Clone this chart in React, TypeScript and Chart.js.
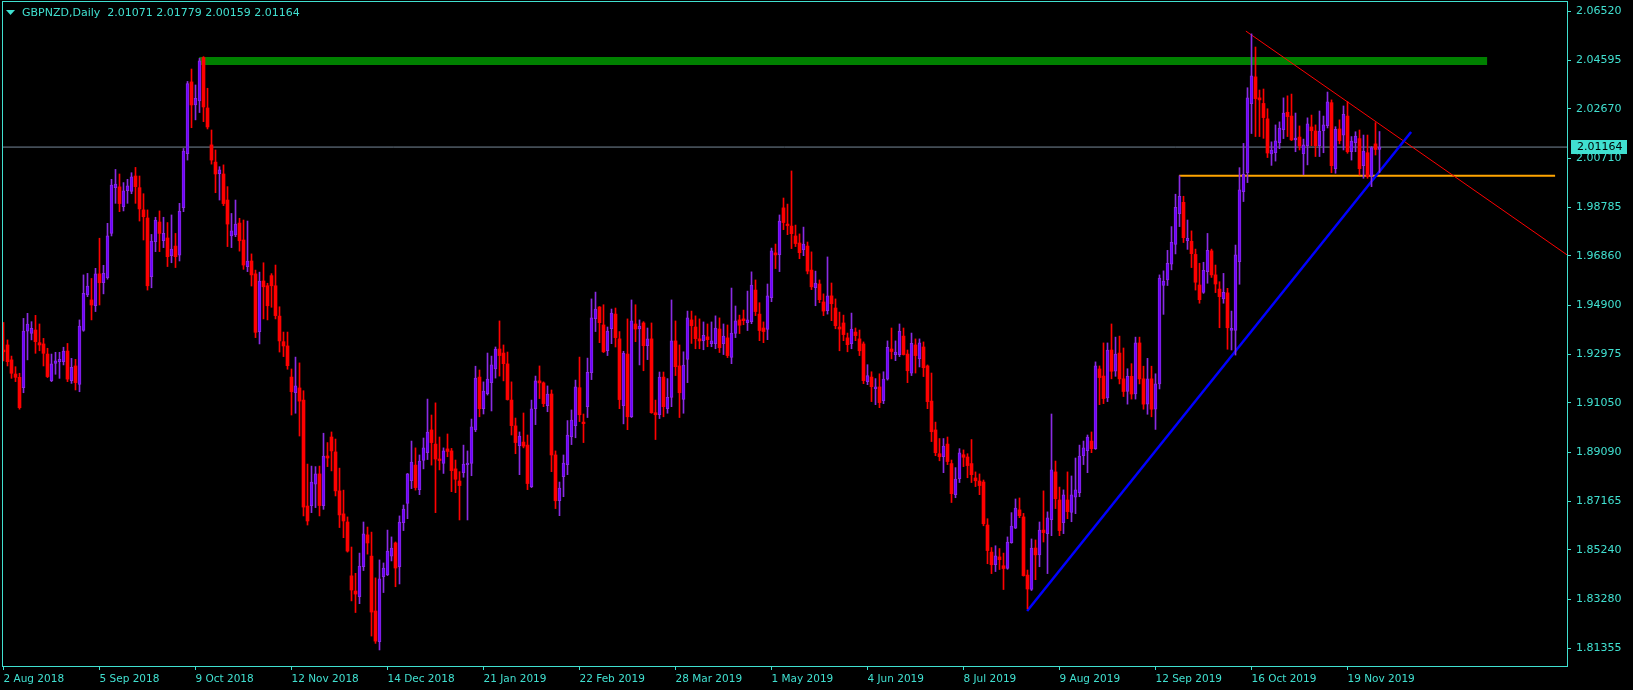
import React, { useEffect, useRef } from 'react';
import { Chart, registerables } from 'chart.js';

Chart.register(...registerables);

// ---- header ----
const symbolTitle = 'GBPNZD,Daily';
const lastQuote = ['2.01071', '2.01779', '2.00159', '2.01164'];
const currentPrice = 2.01164;

// ---- daily candles (bar index 0 = 2 Aug 2018) ----
const opens = [
  1.9314,1.9334,1.9275,1.9219,1.9206,1.9165,1.9389,1.9380,1.9393,1.9343,
  1.9338,1.9298,1.9193,1.9261,1.9268,1.9268,1.9310,1.9193,1.9251,1.9178,
  1.9391,1.9532,1.9512,1.9489,1.9615,1.9580,1.9600,1.9775,1.9956,1.9959,
  1.9881,1.9944,1.9941,2.0002,1.9956,1.9868,1.9836,1.9604,1.9742,1.9820,
  1.9746,1.9757,1.9687,1.9725,1.9689,1.9877,2.0090,2.0374,2.0283,2.0299,
  2.0470,2.0271,2.0125,2.0057,2.0011,2.0010,1.9907,1.9765,1.9769,1.9816,
  1.9749,1.9644,1.9666,1.9615,1.9387,1.9587,1.9568,1.9608,1.9568,1.9448,
  1.9347,1.9330,1.9207,1.9145,1.9164,1.9116,1.8697,1.8699,1.8784,1.8824,
  1.8699,1.8895,1.8970,1.8911,1.8757,1.8666,1.8634,1.8421,1.8361,1.8339,
  1.8457,1.8583,1.8499,1.8282,1.8161,1.8418,1.8426,1.8499,1.8551,1.8457,
  1.8631,1.8707,1.8797,1.8859,1.8762,1.8877,1.8908,1.8998,1.8942,1.8883,
  1.8866,1.8923,1.8915,1.8844,1.8796,1.8829,1.8861,1.8866,1.8998,1.9207,
  1.9082,1.9141,1.9185,1.9239,1.9318,1.9302,1.9259,1.9116,1.9014,1.8936,
  1.8950,1.8938,1.8774,1.9082,1.9192,1.9184,1.9094,1.9140,1.8899,1.8718,
  1.8813,1.8861,1.8971,1.9015,1.9165,1.9029,1.9090,1.9224,1.9438,1.9484,
  1.9413,1.9311,1.9398,1.9456,1.9358,1.9094,1.9298,1.9050,1.9417,1.9397,
  1.9421,1.9331,1.9358,1.9066,1.9058,1.9207,1.9082,1.9127,1.9350,1.9251,
  1.9119,1.9277,1.9433,1.9405,1.9358,1.9351,1.9366,1.9339,1.9339,1.9397,
  1.9339,1.9362,1.9285,1.9380,1.9433,1.9437,1.9422,1.9426,1.9551,1.9456,
  1.9401,1.9395,1.9521,1.9698,1.9691,1.9876,1.9812,1.9804,1.9765,1.9737,
  1.9711,1.9725,1.9630,1.9561,1.9575,1.9504,1.9470,1.9528,1.9480,1.9405,
  1.9421,1.9362,1.9339,1.9385,1.9358,1.9338,1.9189,1.9207,1.9161,1.9168,
  1.9114,1.9199,1.9318,1.9296,1.9296,1.9369,1.9298,1.9222,1.9334,1.9280,
  1.9326,1.9251,1.9112,1.8998,1.8904,1.8892,1.8942,1.8865,1.8742,1.8805,
  1.8900,1.8891,1.8865,1.8808,1.8796,1.8792,1.8622,1.8515,1.8465,1.8496,
  1.8461,1.8450,1.8552,1.8610,1.8682,1.8654,1.8424,1.8367,1.8531,1.8504,
  1.8602,1.8588,1.8643,1.8832,1.8721,1.8631,1.8721,1.8672,1.8732,1.8750,
  1.8896,1.8916,1.8954,1.8924,1.9239,1.9211,1.9125,1.9314,1.9230,1.9302,
  1.9200,1.9150,1.9210,1.9140,1.9342,1.9200,1.9100,1.9200,1.9080,1.9180,
  1.9569,1.9591,1.9653,1.9732,1.9853,1.9898,1.9746,1.9744,1.9692,1.9571,
  1.9542,1.9624,1.9706,1.9611,1.9555,1.9516,1.9540,1.9391,1.9391,1.9663,
  1.9940,2.0015,2.0288,2.0394,2.0311,2.0289,2.0228,2.0089,2.0094,2.0134,
  2.0185,2.0254,2.0239,2.0145,2.0156,2.0090,2.0122,2.0196,2.0180,2.0122,
  2.0181,2.0201,2.0292,2.0031,2.0188,2.0163,2.0239,2.0098,2.0134,2.0150,
  2.0043,2.0094,2.0003,2.0129,2.01071,
];
const highs = [
  1.9423,1.9354,1.9290,1.9248,1.9222,1.9439,1.9459,1.9426,1.9451,1.9417,
  1.9360,1.9321,1.9298,1.9305,1.9305,1.9325,1.9340,1.9281,1.9277,1.9433,
  1.9611,1.9617,1.9597,1.9637,1.9756,1.9649,1.9815,1.9989,2.0028,2.0010,
  1.9976,1.9989,2.0015,2.0036,2.0002,1.9932,1.9868,1.9771,1.9839,1.9864,
  1.9839,1.9818,1.9848,1.9775,1.9894,2.0111,2.0376,2.0425,2.0362,2.0467,
  2.0474,2.0349,2.0184,2.0105,2.0039,2.0046,1.9960,1.9854,1.9907,1.9835,
  1.9828,1.9824,1.9694,1.9630,1.9622,1.9659,1.9578,1.9616,1.9650,1.9485,
  1.9385,1.9385,1.9239,1.9286,1.9263,1.9153,1.8863,1.8855,1.8853,1.8855,
  1.8985,1.8948,1.8990,1.8962,1.8847,1.8760,1.8654,1.8535,1.8431,1.8511,
  1.8634,1.8614,1.8594,1.8413,1.8484,1.8472,1.8602,1.8575,1.8555,1.8658,
  1.8701,1.8826,1.8954,1.8927,1.8899,1.8966,1.9120,1.9057,1.9105,1.8970,
  1.8927,1.8982,1.8925,1.8879,1.8833,1.8938,1.8915,1.9041,1.9250,1.9235,
  1.9188,1.9302,1.9290,1.9326,1.9429,1.9334,1.9306,1.9188,1.9045,1.8990,
  1.9065,1.8978,1.9116,1.9211,1.9251,1.9188,1.9172,1.9156,1.8915,1.8792,
  1.8899,1.9035,1.9077,1.9195,1.9286,1.9061,1.9282,1.9516,1.9543,1.9486,
  1.9493,1.9405,1.9476,1.9480,1.9387,1.9309,1.9437,1.9512,1.9493,1.9433,
  1.9426,1.9401,1.9421,1.9116,1.9227,1.9227,1.9201,1.9512,1.9429,1.9334,
  1.9307,1.9468,1.9468,1.9449,1.9437,1.9425,1.9417,1.9425,1.9449,1.9441,
  1.9417,1.9413,1.9559,1.9488,1.9452,1.9472,1.9547,1.9623,1.9591,1.9501,
  1.9425,1.9575,1.9717,1.9733,1.9848,1.9915,1.9891,2.0022,1.9808,1.9773,
  1.9800,1.9741,1.9702,1.9626,1.9591,1.9536,1.9682,1.9579,1.9516,1.9464,
  1.9452,1.9381,1.9460,1.9401,1.9393,1.9346,1.9256,1.9228,1.9201,1.9220,
  1.9228,1.9350,1.9401,1.9350,1.9417,1.9401,1.9314,1.9381,1.9358,1.9358,
  1.9346,1.9255,1.9223,1.9029,1.8964,1.8964,1.8970,1.8879,1.8849,1.8924,
  1.8919,1.8904,1.8960,1.8832,1.8824,1.8800,1.8647,1.8533,1.8540,1.8529,
  1.8511,1.8575,1.8671,1.8725,1.8729,1.8668,1.8444,1.8567,1.8563,1.8634,
  1.8757,1.8674,1.9061,1.8875,1.8772,1.8761,1.8832,1.8816,1.8887,1.8938,
  1.8954,1.8978,1.8990,1.9267,1.9251,1.9342,1.9342,1.9417,1.9365,1.9369,
  1.9322,1.9240,1.9260,1.9365,1.9365,1.9250,1.9281,1.9250,1.9220,1.9611,
  1.9627,1.9708,1.9802,1.9930,2.0003,1.9922,1.9828,1.9785,1.9713,1.9657,
  1.9661,1.9775,1.9713,1.9650,1.9584,1.9617,1.9558,1.9468,1.9729,2.0035,
  2.0131,2.0351,2.0564,2.0512,2.0342,2.0346,2.0268,2.0137,2.0204,2.0216,
  2.0311,2.0319,2.0326,2.0251,2.0200,2.0148,2.0232,2.0243,2.0204,2.0259,
  2.0239,2.0334,2.0303,2.0197,2.0224,2.0279,2.0296,2.0158,2.0177,2.0184,
  2.0164,2.0164,2.0118,2.0213,2.01779,
];
const lows = [
  1.9271,1.9251,1.9202,1.9189,1.9080,1.9145,1.9275,1.9354,1.9301,1.9311,
  1.9251,1.9205,1.9189,1.9218,1.9202,1.9255,1.9189,1.9182,1.9156,1.9149,
  1.9388,1.9525,1.9433,1.9466,1.9492,1.9536,1.9594,1.9765,1.9894,1.9861,
  1.9864,1.9894,1.9932,1.9894,1.9824,1.9749,1.9551,1.9560,1.9703,1.9703,
  1.9719,1.9644,1.9659,1.9640,1.9666,1.9861,2.0065,2.0193,2.0224,2.0253,
  2.0217,2.0188,2.0049,1.9936,1.9907,1.9885,1.9723,1.9719,1.9762,1.9705,
  1.9633,1.9624,1.9567,1.9363,1.9338,1.9437,1.9433,1.9483,1.9437,1.9306,
  1.9288,1.9238,1.9057,1.9064,1.8974,1.8658,1.8622,1.8671,1.8691,1.8658,
  1.8684,1.8853,1.8836,1.8737,1.8612,1.8572,1.8515,1.8322,1.8276,1.8311,
  1.8442,1.8507,1.8183,1.8154,1.8128,1.8355,1.8422,1.8480,1.8378,1.8389,
  1.8600,1.8647,1.8766,1.8760,1.8742,1.8844,1.8881,1.8859,1.8671,1.8840,
  1.8826,1.8892,1.8754,1.8750,1.8642,1.8811,1.8642,1.8817,1.8991,1.9050,
  1.9061,1.9136,1.9073,1.9203,1.9211,1.9192,1.9116,1.8978,1.8904,1.8821,
  1.8927,1.8762,1.8770,1.9019,1.9122,1.9090,1.9070,1.8833,1.8687,1.8659,
  1.8734,1.8821,1.8940,1.8967,1.9031,1.8948,1.9047,1.9197,1.9387,1.9343,
  1.9304,1.9292,1.9339,1.9326,1.9082,1.9022,1.8999,1.9047,1.9347,1.9255,
  1.9232,1.9276,1.9064,1.8960,1.9043,1.9050,1.9064,1.9090,1.9213,1.9047,
  1.9064,1.9185,1.9340,1.9319,1.9319,1.9315,1.9327,1.9327,1.9319,1.9304,
  1.9296,1.9284,1.9260,1.9363,1.9379,1.9414,1.9391,1.9418,1.9450,1.9351,
  1.9343,1.9355,1.9505,1.9636,1.9624,1.9790,1.9770,1.9715,1.9723,1.9675,
  1.9687,1.9615,1.9553,1.9489,1.9501,1.9450,1.9456,1.9430,1.9398,1.9311,
  1.9351,1.9307,1.9319,1.9351,1.9292,1.9181,1.9177,1.9110,1.9098,1.9086,
  1.9102,1.9195,1.9279,1.9272,1.9288,1.9294,1.9185,1.9213,1.9223,1.9247,
  1.9209,1.9082,1.8952,1.8896,1.8876,1.8829,1.8861,1.8711,1.8730,1.8790,
  1.8853,1.8809,1.8790,1.8774,1.8742,1.8619,1.8469,1.8430,1.8438,1.8446,
  1.8367,1.8447,1.8550,1.8608,1.8651,1.8420,1.8291,1.8363,1.8406,1.8457,
  1.8555,1.8430,1.8580,1.8687,1.8580,1.8588,1.8647,1.8635,1.8667,1.8734,
  1.8861,1.8829,1.8908,1.8921,1.9098,1.9102,1.9110,1.9200,1.9210,1.9180,
  1.9130,1.9100,1.9120,1.9120,1.9180,1.9080,1.9060,1.9050,1.9000,1.9160,
  1.9455,1.9569,1.9631,1.9694,1.9802,1.9739,1.9712,1.9640,1.9551,1.9499,
  1.9538,1.9578,1.9601,1.9541,1.9402,1.9499,1.9317,1.9314,1.9294,1.9574,
  1.9901,1.9976,2.0170,2.0158,2.0158,2.0151,2.0075,2.0044,2.0061,2.0110,
  2.0150,2.0158,2.0142,2.0098,2.0105,2.0007,2.0046,2.0122,2.0079,2.0079,
  2.0094,2.0192,2.0015,2.0013,2.0129,2.0105,2.0092,2.0065,2.0098,2.0006,
  1.9993,1.9993,1.9960,2.0085,2.00159,
];
const closes = [
  1.9307,1.9268,1.9222,1.9206,1.9086,1.9389,1.9417,1.9400,1.9347,1.9334,
  1.9301,1.9209,1.9259,1.9271,1.9277,1.9310,1.9199,1.9246,1.9185,1.9409,
  1.9538,1.9567,1.9492,1.9615,1.9580,1.9617,1.9765,1.9966,1.9970,1.9893,
  1.9943,1.9963,1.9999,1.9960,1.9872,1.9841,1.9568,1.9745,1.9828,1.9775,
  1.9775,1.9683,1.9713,1.9683,1.9862,2.0101,2.0367,2.0283,2.0309,2.0457,
  2.0275,2.0196,2.0065,2.0010,2.0026,1.9893,1.9812,1.9785,1.9812,1.9746,
  1.9650,1.9666,1.9611,1.9384,1.9587,1.9564,1.9489,1.9568,1.9450,1.9350,
  1.9330,1.9252,1.9149,1.9172,1.9112,1.8693,1.8638,1.8792,1.8824,1.8699,
  1.8895,1.8887,1.8915,1.8757,1.8662,1.8638,1.8519,1.8365,1.8349,1.8460,
  1.8587,1.8551,1.8278,1.8163,1.8409,1.8452,1.8519,1.8531,1.8452,1.8634,
  1.8685,1.8824,1.8871,1.8770,1.8875,1.8927,1.8990,1.8948,1.8883,1.8877,
  1.8915,1.8913,1.8837,1.8803,1.8778,1.8863,1.8867,1.9010,1.9203,1.9082,
  1.9152,1.9199,1.9255,1.9318,1.9292,1.9260,1.9118,1.9015,1.8948,1.8974,
  1.8934,1.8786,1.9081,1.9192,1.9184,1.9102,1.9140,1.8899,1.8718,1.8768,
  1.8867,1.8978,1.9037,1.9168,1.9058,1.9023,1.9226,1.9441,1.9476,1.9422,
  1.9307,1.9389,1.9460,1.9363,1.9118,1.9302,1.9050,1.9429,1.9397,1.9409,
  1.9331,1.9358,1.9066,1.9058,1.9207,1.9090,1.9127,1.9350,1.9248,1.9145,
  1.9254,1.9441,1.9410,1.9359,1.9350,1.9372,1.9355,1.9350,1.9401,1.9323,
  1.9369,1.9292,1.9381,1.9429,1.9412,1.9430,1.9433,1.9571,1.9466,1.9391,
  1.9387,1.9528,1.9706,1.9690,1.9824,1.9818,1.9806,1.9774,1.9735,1.9699,
  1.9733,1.9626,1.9564,1.9579,1.9513,1.9468,1.9528,1.9497,1.9410,1.9397,
  1.9375,1.9335,1.9397,1.9371,1.9311,1.9193,1.9213,1.9169,1.9168,1.9106,
  1.9199,1.9325,1.9308,1.9306,1.9388,1.9296,1.9232,1.9340,1.9292,1.9342,
  1.9244,1.9110,1.8991,1.8908,1.8892,1.8934,1.8873,1.8746,1.8804,1.8907,
  1.8890,1.8857,1.8821,1.8797,1.8778,1.8627,1.8521,1.8465,1.8500,1.8485,
  1.8450,1.8555,1.8618,1.8689,1.8659,1.8422,1.8369,1.8531,1.8504,1.8602,
  1.8592,1.8650,1.8840,1.8726,1.8600,1.8741,1.8675,1.8741,1.8761,1.8895,
  1.8927,1.8970,1.8924,1.9251,1.9205,1.9122,1.9314,1.9230,1.9298,1.9200,
  1.9150,1.9210,1.9140,1.9342,1.9200,1.9100,1.9200,1.9080,1.9180,1.9598,
  1.9587,1.9657,1.9740,1.9878,1.9922,1.9758,1.9756,1.9695,1.9582,1.9513,
  1.9629,1.9708,1.9611,1.9575,1.9525,1.9542,1.9402,1.9400,1.9690,1.9947,
  2.0009,2.0311,2.0398,2.0308,2.0303,2.0233,2.0093,2.0105,2.0141,2.0192,
  2.0251,2.0237,2.0145,2.0152,2.0121,2.0125,2.0208,2.0181,2.0122,2.0180,
  2.0204,2.0295,2.0043,2.0187,2.0142,2.0246,2.0098,2.0140,2.0160,2.0031,
  2.0101,2.0000,2.0114,2.0107,2.01164,
];

// ---- axes ----
const dateTickBars = [0, 24, 48, 72, 96, 120, 144, 168, 192, 216, 240, 264, 288, 312, 336];
const dateTickLabels = [
  '2 Aug 2018', '5 Sep 2018', '9 Oct 2018', '12 Nov 2018', '14 Dec 2018',
  '21 Jan 2019', '22 Feb 2019', '28 Mar 2019', '1 May 2019', '4 Jun 2019',
  '8 Jul 2019', '9 Aug 2019', '12 Sep 2019', '16 Oct 2019', '19 Nov 2019',
];
const priceTicks = [2.0652, 2.04595, 2.0267, 2.0071, 1.98785, 1.9686, 1.949, 1.92975, 1.9105, 1.8909, 1.87165, 1.8524, 1.8328, 1.81355];
const priceTickLabels = ['2.06520', '2.04595', '2.02670', '2.00710', '1.98785', '1.96860', '1.94900', '1.92975', '1.91050', '1.89090', '1.87165', '1.85240', '1.83280', '1.81355'];
const barAxisMin = -0.375;
const barAxisMax = 390.875;
const priceAxisMin = 1.80646;
const priceAxisMax = 2.0694;

// ---- drawn objects (bar index, price) ----
const resistanceLine = [{ x: 48.9, y: 2.0457 }, { x: 370.9, y: 2.0457 }];
const supportLine = [{ x: 293.9, y: 2.0003 }, { x: 387.9, y: 2.0003 }];
const downTrendLine = [{ x: 310.6, y: 2.0575 }, { x: 390.9, y: 1.969 }];
const upTrendLine = [{ x: 255.9, y: 1.8282 }, { x: 351.9, y: 2.0176 }];

const FG = '#40e0d0';
const BULL_FILL = '#6a00ff';
const BULL_EDGE = '#8a2be2';
const BEAR = '#ff0000';
const FONT = "'DejaVu Sans', sans-serif";

export default function App() {
  const ref = useRef<HTMLCanvasElement | null>(null);

  useEffect(() => {
    document.body.style.margin = '0';
    document.body.style.background = '#000';
    const canvas = ref.current;
    if (!canvas) return;

    const bull = opens.map((o, i) => closes[i] >= o);

    const bgPlugin = {
      id: 'bg',
      beforeDraw(chart: any) {
        const { ctx, width, height } = chart;
        ctx.save();
        ctx.fillStyle = '#000';
        ctx.fillRect(0, 0, width, height);
        ctx.restore();
      },
    };

    const overlayPlugin = {
      id: 'overlay',
      afterDraw(chart: any) {
        const { ctx, chartArea } = chart;
        const ys = chart.scales.y;
        ctx.save();
        // frame
        ctx.strokeStyle = FG;
        ctx.lineWidth = 1;
        ctx.strokeRect(chartArea.left + 0.5, chartArea.top + 0.5, chartArea.right - chartArea.left, chartArea.bottom - chartArea.top);
        // title
        ctx.fillStyle = FG;
        ctx.beginPath();
        ctx.moveTo(6, 10);
        ctx.lineTo(15, 10);
        ctx.lineTo(10.5, 15);
        ctx.closePath();
        ctx.fill();
        ctx.font = `11px ${FONT}`;
        ctx.textBaseline = 'middle';
        ctx.textAlign = 'left';
        ctx.fillText(`${symbolTitle}  ${lastQuote.join(' ')}`, 22, 13.5);
        // current price label
        const py = ys.getPixelForValue(currentPrice);
        ctx.fillStyle = FG;
        ctx.fillRect(chartArea.right + 4, Math.round(py) - 7, 56, 14);
        ctx.fillStyle = '#000';
        ctx.fillText(currentPrice.toFixed(5), chartArea.right + 10, Math.round(py) + 0.5);
        ctx.restore();
      },
    };

    const lineDs = (label: string, data: any[], color: string, width: number, order: number) => ({
      type: 'line' as const,
      label,
      data,
      borderColor: color,
      borderWidth: width,
      pointRadius: 0,
      fill: false,
      tension: 0,
      order,
    });

    const chart = new Chart(canvas, {
      type: 'bar',
      data: {
        datasets: [
          lineDs('bid', [{ x: barAxisMin, y: currentPrice }, { x: barAxisMax, y: currentPrice }], '#778899', 1, 20),
          lineDs('resistance', resistanceLine, '#008000', 8, 15),
          lineDs('support', supportLine, '#ffa500', 2, 14),
          lineDs('downtrend', downTrendLine, '#ff0000', 1, 13),
          lineDs('uptrend', upTrendLine, '#0000ff', 2.5, 12),
          {
            type: 'bar' as const,
            label: 'wicks',
            data: opens.map((_, i) => ({ x: i, y: [lows[i], highs[i]] })),
            backgroundColor: bull.map((b) => (b ? BULL_EDGE : BEAR)),
            borderWidth: 0,
            barThickness: 1,
            maxBarThickness: 1,
            grouped: false,
            minBarLength: 1,
            order: 3,
          } as any,
          {
            type: 'bar' as const,
            label: 'bodies',
            data: opens.map((o, i) => ({ x: i, y: [o, closes[i]] })),
            backgroundColor: bull.map((b) => (b ? BULL_FILL : BEAR)),
            borderColor: bull.map((b) => (b ? BULL_EDGE : BEAR)),
            borderWidth: bull.map((b) => (b ? 1 : 0)),
            borderSkipped: false,
            barThickness: 3,
            maxBarThickness: 3,
            grouped: false,
            minBarLength: 1,
            order: 2,
          } as any,
        ],
      },
      options: {
        animation: false,
        responsive: false,
        devicePixelRatio: 1,
        events: [],
        layout: { padding: { left: 2, top: 1, right: 0, bottom: 0 } },
        plugins: { legend: { display: false }, tooltip: { enabled: false } },
        scales: {
          x: {
            type: 'linear',
            min: barAxisMin,
            max: barAxisMax,
            offset: false,
            border: { display: false },
            grid: { display: true, drawOnChartArea: false, drawTicks: true, tickLength: 4, tickColor: FG, offset: false },
            ticks: {
              autoSkip: false,
              maxRotation: 0,
              minRotation: 0,
              align: 'start',
              padding: 3,
              color: FG,
              font: { family: FONT, size: 10.5 },
              callback: (_v: any, i: number) => dateTickLabels[i] ?? '',
            },
            afterBuildTicks: (s: any) => {
              s.ticks = dateTickBars.map((v) => ({ value: v }));
            },
            afterFit: (s: any) => {
              s.height = 24;
              s.paddingLeft = 0;
              s.paddingRight = 0;
            },
          } as any,
          y: {
            type: 'linear',
            position: 'right',
            min: priceAxisMin,
            max: priceAxisMax,
            border: { display: false },
            grid: { display: true, drawOnChartArea: false, drawTicks: true, tickLength: 4, tickColor: FG },
            ticks: {
              padding: 5,
              color: FG,
              font: { family: FONT, size: 11 },
              callback: (_v: any, i: number) => priceTickLabels[i] ?? '',
            },
            afterBuildTicks: (s: any) => {
              s.ticks = priceTicks.map((v) => ({ value: v }));
            },
            afterFit: (s: any) => {
              s.width = 66;
              s.paddingTop = 0;
              s.paddingBottom = 0;
            },
          } as any,
        },
      },
      plugins: [bgPlugin, overlayPlugin],
    });

    return () => chart.destroy();
  }, []);

  return (
    <div style={{ width: 1633, height: 690, background: '#000' }}>
      <canvas ref={ref} width={1633} height={690} style={{ display: 'block', width: 1633, height: 690 }} />
    </div>
  );
}
